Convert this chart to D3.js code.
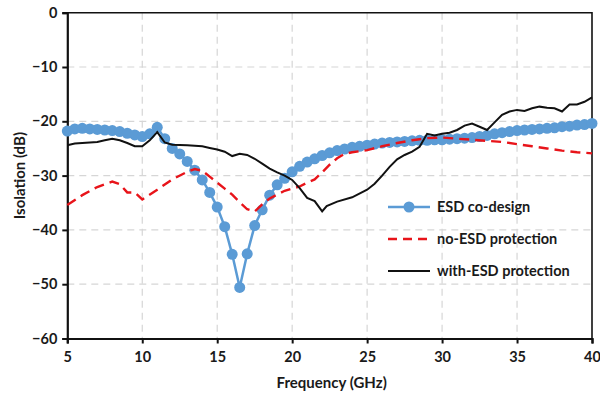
<!DOCTYPE html>
<html>
<head>
<meta charset="utf-8">
<script src="https://cdn.jsdelivr.net/npm/d3@7"></script>
<style>
  html, body { margin: 0; padding: 0; background: #fff; }
  svg text { font-family: Lato, "Open Sans", sans-serif; font-weight: 700; fill: #1a1a1a; }
</style>
</head>
<body>
<svg id="chart" width="600" height="397"></svg>
<script>
// Frequency sweep (GHz) and isolation (dB) for the three designs
const coDesignFreq = [5,5.5,6,6.5,7,7.5,8,8.5,9,9.5,10,10.5,11,11.5,12,12.5,13,13.5,14,14.5,15,15.5,16,16.5,17,17.5,18,18.5,19,19.5,20,20.5,21,21.5,22,22.5,23,23.5,24,24.5,25,25.5,26,26.5,27,27.5,28,28.5,29,29.5,30,30.5,31,31.5,32,32.5,33,33.5,34,34.5,35,35.5,36,36.5,37,37.5,38,38.5,39,39.5,40];
const coDesignIso = [-21.8,-21.4,-21.3,-21.4,-21.5,-21.6,-21.7,-21.9,-22.2,-22.5,-22.8,-22.3,-21.1,-23.2,-25.0,-26.0,-27.4,-29.0,-30.8,-33.1,-35.8,-39.4,-44.5,-50.6,-44.4,-39.2,-36.3,-33.6,-31.7,-30.5,-29.3,-28.3,-27.5,-26.9,-26.3,-25.8,-25.4,-25.1,-24.8,-24.6,-24.4,-24.2,-24.0,-23.9,-23.8,-23.7,-23.6,-23.5,-23.5,-23.4,-23.4,-23.3,-23.2,-23.1,-23.0,-22.8,-22.6,-22.3,-22.1,-21.9,-21.7,-21.6,-21.5,-21.4,-21.3,-21.2,-21.0,-20.9,-20.7,-20.6,-20.4];

const noEsdFreq = [5,6,7,8,8.5,9,9.5,10,11,12,13,13.5,14,14.5,15,15.5,16,16.5,17,17.5,18,18.5,19,19.5,20,20.5,21,21.5,22,22.5,23,23.5,24,25,26,27,28,29,30,31,32,33,34,35,36,37,38,39,40];
const noEsdIso = [-35.4,-33.6,-32.1,-31.1,-31.6,-33.1,-33.1,-34.4,-32.6,-30.7,-29.3,-28.8,-29.1,-30.2,-31.3,-32.4,-33.5,-34.9,-36.2,-36.6,-35.3,-34.2,-33.5,-32.8,-32.4,-32.0,-31.3,-30.7,-29.4,-28.0,-26.8,-26.0,-25.7,-25.3,-24.6,-24.0,-23.5,-23.1,-23.0,-23.2,-23.4,-23.6,-23.8,-24.2,-24.6,-25.0,-25.4,-25.7,-25.9];

const withEsdFreq = [5,5.5,6,7,7.5,8,8.5,9,9.5,10,10.5,11,11.5,12,13,14,14.5,15,15.5,16,16.5,17,17.5,18,18.5,19,19.5,20,20.5,21,21.5,22,22.3,23,24,25,25.5,26,26.5,27,27.5,28,28.5,29,29.5,30,30.5,31,31.5,32,32.5,33,33.5,34,34.5,35,35.5,36,36.5,37,37.5,38,38.5,39,39.5,40];
const withEsdIso = [-24.4,-24.1,-24.0,-23.8,-23.5,-23.2,-23.5,-24.0,-24.6,-24.6,-23.5,-22.0,-23.9,-24.3,-24.4,-24.6,-24.9,-25.2,-25.6,-26.4,-26.0,-26.2,-26.9,-27.8,-28.7,-29.4,-30.0,-30.8,-32.3,-34.1,-34.7,-36.6,-35.6,-34.8,-34.0,-32.6,-31.5,-30.0,-28.4,-27.0,-26.2,-25.6,-24.7,-22.3,-22.6,-22.3,-22.1,-21.6,-20.8,-20.4,-21.0,-21.6,-20.2,-18.8,-18.2,-17.9,-18.1,-17.6,-17.3,-17.5,-17.6,-18.2,-16.9,-16.9,-16.4,-15.6];

const xTicks = [5,10,15,20,25,30,35,40];
const yTicks = [0,-10,-20,-30,-40,-50,-60];

const seriesNames = ["ESD co-design", "no-ESD protection", "with-ESD protection"];
const xTitle = "Frequency (GHz)";
const yTitle = "Isolation (dB)";

const svg = d3.select("#chart");
const plot = { left: 67.3, right: 592, top: 12.7, bottom: 338.5 };

const x = d3.scaleLinear().domain([5, 40]).range([plot.left, plot.right]);
const y = d3.scaleLinear().domain([-60, 0]).range([plot.bottom, plot.top]);

// dashed grid
const grid = svg.append("g").attr("stroke", "#d6d6d6").attr("stroke-width", 1.2).attr("stroke-dasharray", "7,5");
grid.selectAll(".gx").data(xTicks.slice(1, -1)).join("line")
  .attr("x1", d => x(d)).attr("x2", d => x(d)).attr("y1", plot.top).attr("y2", plot.bottom);
grid.selectAll(".gy").data(yTicks.slice(1, -1)).join("line")
  .attr("y1", d => y(d)).attr("y2", d => y(d)).attr("x1", plot.left).attr("x2", plot.right);

// frame (top + right)
svg.append("path")
  .attr("d", `M${plot.left},${plot.top}H${plot.right}V${plot.bottom}`)
  .attr("fill", "none").attr("stroke", "#111").attr("stroke-width", 1.6);

// axes
const xAxis = svg.append("g").attr("transform", `translate(0,${plot.bottom})`)
  .call(d3.axisBottom(x).tickValues(xTicks).tickSize(5).tickPadding(8));
const yAxis = svg.append("g").attr("transform", `translate(${plot.left},0)`)
  .call(d3.axisLeft(y).tickValues(yTicks).tickSize(5).tickPadding(5));
[xAxis, yAxis].forEach(g => {
  g.select(".domain").attr("stroke", "#111").attr("stroke-width", 2.2);
  g.selectAll(".tick line").attr("stroke", "#111").attr("stroke-width", 2);
  g.selectAll(".tick text").attr("font-size", 14.5).attr("fill", "#1a1a1a")
    .attr("font-family", "Lato, sans-serif").attr("font-weight", 700);
});

const line = d3.line().x(d => x(d[0])).y(d => y(d[1]));
const zip = (a, b) => a.map((v, i) => [v, b[i]]);

const blue = "#5b9bd5", red = "#e8141a", black = "#111";

// ESD co-design (line + circles)
const coData = zip(coDesignFreq, coDesignIso);
svg.append("path").datum(coData).attr("d", line)
  .attr("fill", "none").attr("stroke", blue).attr("stroke-width", 2.5);
svg.append("g").selectAll("circle").data(coData).join("circle")
  .attr("cx", d => x(d[0])).attr("cy", d => y(d[1])).attr("r", 5.5).attr("fill", blue);

// no-ESD protection (dashed)
svg.append("path").datum(zip(noEsdFreq, noEsdIso)).attr("d", line)
  .attr("fill", "none").attr("stroke", red).attr("stroke-width", 2.4).attr("stroke-dasharray", "10,6");

// with-ESD protection (solid)
svg.append("path").datum(zip(withEsdFreq, withEsdIso)).attr("d", line)
  .attr("fill", "none").attr("stroke", black).attr("stroke-width", 2);

// legend
const legend = svg.append("g");
const rows = [207, 239, 271];
legend.append("line").attr("x1", 388).attr("x2", 430).attr("y1", rows[0]).attr("y2", rows[0])
  .attr("stroke", blue).attr("stroke-width", 2.5);
legend.append("circle").attr("cx", 409).attr("cy", rows[0]).attr("r", 5.5).attr("fill", blue);
legend.append("line").attr("x1", 388).attr("x2", 430).attr("y1", rows[1]).attr("y2", rows[1])
  .attr("stroke", red).attr("stroke-width", 2.4).attr("stroke-dasharray", "9,6");
legend.append("line").attr("x1", 388).attr("x2", 430).attr("y1", rows[2]).attr("y2", rows[2])
  .attr("stroke", black).attr("stroke-width", 2);
legend.selectAll("text").data(seriesNames).join("text")
  .attr("x", 437).attr("y", (d, i) => rows[i]).attr("dy", "0.35em")
  .attr("font-size", 14.5).text(d => d);

// axis titles
svg.append("text").attr("x", x(22.5) + 2).attr("y", 388).attr("text-anchor", "middle")
  .attr("font-size", 15).text(xTitle);
svg.append("text").attr("transform", `translate(25,${y(-30)}) rotate(-90)`)
  .attr("text-anchor", "middle").attr("font-size", 15).text(yTitle);
</script>
</body>
</html>
